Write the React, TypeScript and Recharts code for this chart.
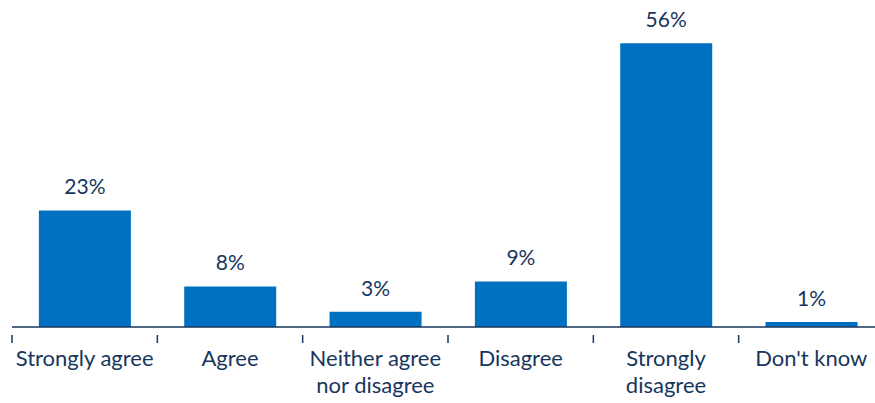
import { BarChart, Bar, XAxis, YAxis, LabelList } from "recharts";

const CATEGORIES = [
  "Strongly agree",
  "Agree",
  "Neither agree\nnor disagree",
  "Disagree",
  "Strongly\ndisagree",
  "Don't know",
];
const SHARES = [23, 8, 3, 9, 56, 1];

const data = CATEGORIES.map((name, i) => ({ name, value: SHARES[i] }));

const NAVY = "#17365D";
const BLUE = "#0070C0";
const FONT = "Lato, 'Open Sans', sans-serif";
const BAND = 872 / CATEGORIES.length;

// eslint-disable-next-line @typescript-eslint/no-explicit-any
function CategoryTick({ x, y, payload, index }: any) {
  const lines = String(payload.value).split("\n");
  const left = x - BAND / 2;
  return (
    <g>
      <line x1={left} y1={y} x2={left} y2={y + 8} stroke={NAVY} strokeWidth={1.5} />
      {index === CATEGORIES.length - 1 && (
        <line x1={left + BAND} y1={y} x2={left + BAND} y2={y + 8} stroke={NAVY} strokeWidth={1.5} />
      )}
      <text x={x} y={y + 31} textAnchor="middle" fill={NAVY} fontSize={22} fontFamily={FONT}>
        {lines.map((l, i) => (
          <tspan key={i} x={x} dy={i === 0 ? 0 : 27}>{l}</tspan>
        ))}
      </text>
    </g>
  );
}

export default function App() {
  return (
    <div style={{ position: "absolute", left: 0, top: 0, width: 875, height: 403, overflow: "hidden", background: "#fff" }}>
      <BarChart
        width={900}
        height={403}
        data={data}
        margin={{ top: 23, right: 16, left: 12, bottom: 0 }}
        barCategoryGap="18.5%"
      >
        <YAxis hide domain={[0, 60]} />
        <XAxis
          dataKey="name"
          height={76}
          axisLine={{ stroke: NAVY, strokeWidth: 1.5 }}
          tickLine={false}
          interval={0}
          tick={<CategoryTick />}
        />
        <Bar dataKey="value" fill={BLUE} isAnimationActive={false}>
          <LabelList
            dataKey="value"
            position="top"
            offset={16}
            formatter={(v: number) => `${v}%`}
            style={{ fill: NAVY, fontSize: 21, fontFamily: FONT }}
          />
        </Bar>
      </BarChart>
    </div>
  );
}
